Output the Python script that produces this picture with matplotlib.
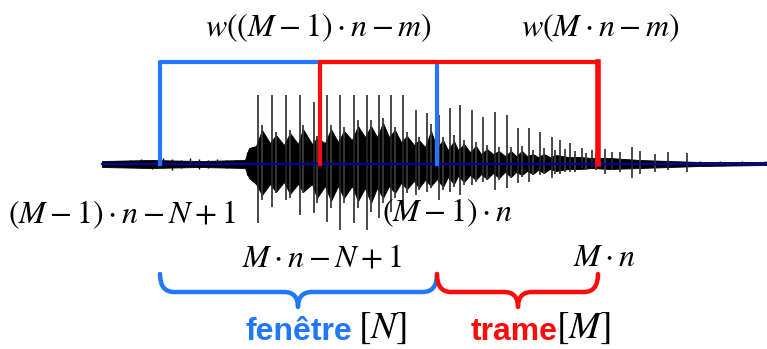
import matplotlib
matplotlib.use("Agg")
import matplotlib.pyplot as plt
from matplotlib.path import Path
from matplotlib.patches import PathPatch

plt.rcParams['mathtext.fontset'] = 'stix'

# values (pixel units, y grows downward)
baseline_y = 164
window_top = 62
blue_window = [160, 437]
red_window = [320, 598]
signal_start, signal_end = 102, 767

# main pitch pulses of the waveform: position, top tip, bottom tip
spike_x = [258, 272, 286, 300, 314, 327, 340, 354, 367, 379, 391, 403, 416, 427, 439,
           450, 460, 472, 483, 495, 507, 518, 529, 540, 552, 560, 570, 582, 592, 612,
           632, 668, 687]
spike_top = [95, 95, 95, 95, 102, 95, 95, 95, 95, 95, 95, 95, 110, 113, 115,
             108, 105, 110, 117, 112, 115, 128, 128, 132, 137, 140, 143, 148, 150, 152,
             147, 152, 153]
spike_bottom = [223, 207, 200, 215, 213, 222, 230, 223, 230, 218, 212, 205, 195, 192, 200,
                192, 195, 185, 182, 190, 188, 183, 182, 175, 178, 174, 172, 168, 167, 170,
                178, 170, 172]

# smaller secondary peaks inside each period
minor_x = [262, 276, 290, 303, 317, 331, 344, 358, 371, 383, 395, 407, 419, 431, 443,
           454, 464, 476, 487, 499, 511, 522, 533, 544, 555, 565, 575, 586, 596, 605,
           620, 640, 655]
minor_top = [125, 132, 130, 125, 136, 125, 127, 120, 120, 118, 127, 132, 137, 124, 137,
             135, 140, 142, 145, 147, 147, 146, 150, 148, 150, 149, 151, 153, 153, 149,
             152, 151, 154]
minor_bottom = [200, 193, 198, 193, 203, 208, 203, 208, 212, 203, 198, 193, 190, 188, 190,
                187, 185, 182, 180, 180, 178, 177, 175, 174, 174, 172, 172, 170, 170, 174,
                172, 174, 172]

# low-level noise before and after the voiced part
noise_x = [118, 130, 141, 152, 163, 172, 181, 190, 199, 208, 217, 226, 236, 247, 251,
           700, 720, 742, 765]
noise_top = [161, 160, 159, 160, 158, 159, 160, 158, 159, 160, 159, 160, 160, 152, 156,
             161, 161, 161, 161]
noise_bottom = [166, 167, 168, 169, 168, 170, 168, 167, 169, 168, 167, 168, 167, 175, 173,
                165, 165, 165, 165]

# dense part of the waveform (envelope)
band_x = [102, 150, 200, 245, 249, 256, 262, 270, 276, 284, 290, 298, 303, 312, 317,
          325, 331, 338, 344, 352, 358, 365, 371, 377, 383, 389, 395, 401, 407, 414,
          419, 425, 431, 437, 443, 448, 454, 458, 464, 470, 476, 481, 487, 493, 499,
          505, 511, 516, 522, 527, 533, 538, 544, 550, 556, 568, 580, 592, 610, 640,
          700, 767]
band_top = [161, 160, 161, 160, 148, 146, 130, 143, 135, 145, 133, 144, 129, 144, 138,
            143, 129, 142, 131, 140, 126, 137, 126, 137, 123, 137, 130, 142, 136, 145,
            140, 147, 131, 148, 140, 150, 141, 150, 144, 152, 146, 154, 149, 154, 151,
            156, 151, 156, 151, 156, 154, 157, 154, 157, 155, 157, 157, 158, 158, 160,
            162, 162]
band_bottom = [167, 168, 167, 168, 178, 184, 195, 184, 192, 182, 194, 184, 192, 184, 198,
               186, 201, 186, 198, 186, 201, 188, 203, 188, 198, 186, 193, 183, 189, 181,
               188, 180, 186, 179, 187, 177, 184, 176, 182, 175, 180, 174, 179, 173, 178,
               172, 177, 172, 175, 171, 174, 170, 173, 169, 171, 169, 169, 168, 169, 168,
               166, 165]

BLUE = '#1f78ff'
RED = '#ff0a0a'
FS = 23


def brace(ax, x0, x1, xtip, ytop, ymid, ybot, color):
    r = 14
    verts = [(x0, ytop), (x0, ymid), (x0 + r, ymid),
             (xtip - r, ymid),
             (xtip, ymid), (xtip, ybot),
             (xtip, ymid), (xtip + r, ymid),
             (x1 - r, ymid),
             (x1, ymid), (x1, ytop)]
    codes = [Path.MOVETO, Path.CURVE3, Path.CURVE3,
             Path.LINETO,
             Path.CURVE3, Path.CURVE3,
             Path.CURVE3, Path.CURVE3,
             Path.LINETO,
             Path.CURVE3, Path.CURVE3]
    ax.add_patch(PathPatch(Path(verts, codes), fill=False, edgecolor=color, lw=3.2,
                           capstyle='round', joinstyle='round'))


fig = plt.figure(figsize=(7.67, 3.49), dpi=100)
ax = fig.add_axes([0, 0, 1, 1])
ax.set_xlim(0, 767)
ax.set_ylim(349, 0)
ax.axis('off')

# waveform
ax.fill_between(band_x, band_top, band_bottom, color='black', lw=0.6)
ax.vlines(noise_x, noise_top, noise_bottom, color='black', lw=1.0)
ax.vlines(minor_x, minor_top, minor_bottom, color='#3a3a3a', lw=1.3)
ax.vlines(spike_x, spike_top, spike_bottom, color='#2a2a2a', lw=1.2)
ax.plot([signal_start, signal_end], [baseline_y, baseline_y], color='#0000a8', lw=1.6)

# analysis windows
ax.plot([blue_window[0], blue_window[0], blue_window[1], blue_window[1]],
        [baseline_y, window_top, window_top, baseline_y], color=BLUE, lw=3)
ax.plot([red_window[0], red_window[0], red_window[1], red_window[1]],
        [baseline_y, window_top, window_top, baseline_y], color=RED, lw=3)
ax.plot([red_window[1], red_window[1]], [window_top, baseline_y], color=RED, lw=4)

# labels
ax.text(318, 28, r'$w((M-1)\cdot n-m)$', fontsize=FS, ha='center', va='center')
ax.text(600, 28, r'$w(M\cdot n-m)$', fontsize=FS, ha='center', va='center')
ax.text(122, 215, r'$(M-1)\cdot n-N+1$', fontsize=FS, ha='center', va='center')
ax.text(447, 213, r'$(M-1)\cdot n$', fontsize=FS, ha='center', va='center')
ax.text(322, 258, r'$M\cdot n-N+1$', fontsize=FS, ha='center', va='center')
ax.text(604, 258, r'$M\cdot n$', fontsize=FS, ha='center', va='center')

brace(ax, blue_window[0], blue_window[1], 298, 274, 292, 307, BLUE)
brace(ax, blue_window[1], red_window[1], 518, 274, 292, 307, RED)

ax.text(352, 340, 'fenêtre', fontsize=FS, fontweight='bold', color=BLUE,
        family='Liberation Sans', ha='right', va='baseline')
ax.text(358, 328, r'$[N]$', fontsize=27, ha='left', va='center')
ax.text(558, 340, 'trame', fontsize=FS, fontweight='bold', color=RED,
        family='Liberation Sans', ha='right', va='baseline')
ax.text(556, 328, r'$[M]$', fontsize=27, ha='left', va='center')

fig.savefig('out.png', dpi=100)
